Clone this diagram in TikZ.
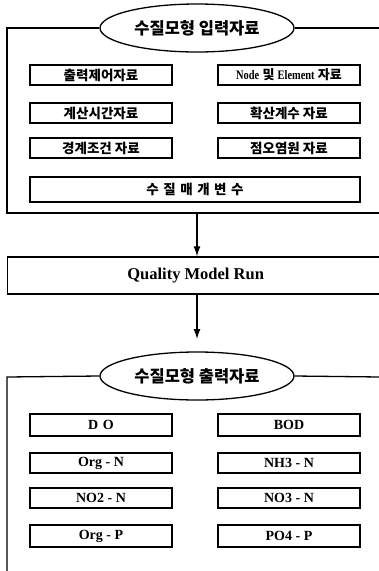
\documentclass[tikz,border=0pt]{standalone}
\usepackage{fontspec}
\setmainfont{Liberation Serif}
\newfontfamily\kr{Noto Sans CJK KR}
\usetikzlibrary{shapes.geometric,arrows.meta}
\begin{document}
\begin{tikzpicture}[x=1pt,y=-1pt,
  line width=1.3pt,
  frameline/.style={draw,line width=1.3pt},
  oval/.style={draw,ellipse,line width=1.3pt,minimum width=194pt,minimum height=48pt,inner sep=0pt,font=\kr\bfseries\fontsize{16.5}{16.5}\selectfont},
  box/.style={draw,line width=1.5pt,minimum width=142pt,minimum height=20pt,inner sep=0pt},
  krtext/.style={font=\kr\bfseries\fontsize{13.5}{14}\selectfont},
  entext/.style={font=\bfseries\fontsize{14}{14}\selectfont},
  arr/.style={draw,line width=1.3pt,-{Latex[length=10pt,width=7pt]}}
]
\useasboundingbox (0,0) rectangle (379,571);

% ---------- input frame ----------
\node[oval] (in) at (197,28) {수질모형 입력자료};
\coordinate (inTL) at (7,28);
\coordinate (inBL) at (7,213);
\coordinate (inBR) at (380,213);
\coordinate (inTR) at (380,28);
\draw[frameline] (in.west) -- (inTL) -- (inBL) -- (inBR);
\draw[frameline] (in.east) -- (inTR);

\node[box,krtext] (a1) at (101,75) {출력제어자료};
\node[box] (a2) at (289,75) {\fontsize{13}{13}\selectfont\bfseries\scalebox{0.8}[1]{Node} {\kr 및} \scalebox{0.8}[1]{Element} {\kr 자료}};
\node[box,krtext] (a3) at (101,113) {계산시간자료};
\node[box,krtext] (a4) at (289,113) {확산계수 자료};
\node[box,krtext] (a5) at (101,148) {경계조건 자료};
\node[box,krtext] (a6) at (289,148) {점오염원 자료};
\node[box,krtext,minimum width=330pt,minimum height=25pt] (a7) at (195,189.5) {수\,\,질\,\,매\,\,개\,\,변\,\,수};

% ---------- run ----------
\coordinate (inB) at (197,213);
\node[draw,line width=1.3pt,minimum width=380pt,minimum height=37pt,inner sep=0pt,anchor=west,
      font=\bfseries\fontsize{16.5}{16.5}\selectfont] (run) at (7,275.5) {\hspace*{-4pt}Quality Model Run};
\coordinate (runB) at (197,294);
\coordinate (arrEnd) at (197,339);
\draw[arr] (inB) -- (run.north -| inB);
\draw[arr] (runB) -- (arrEnd);

% ---------- output frame ----------
\node[oval] (out) at (197,376) {수질모형 출력자료};
\coordinate (outTL) at (7,377);
\coordinate (outBL) at (7,571);
\coordinate (outTR) at (380,377);
\draw[frameline] (out.west) -- (outTL) -- (outBL);
\draw[frameline] (out.east) -- (outTR);

\node[box,entext,minimum height=22pt] (b1) at (101,425) {D\,\,O};
\node[box,entext,minimum height=22pt] (b2) at (289,425) {BOD};
\node[box,entext] (b3) at (101,463) {Org - N};
\node[box,entext] (b4) at (289,463) {NH3 - N};
\node[box,entext] (b5) at (101,498) {NO2 - N};
\node[box,entext] (b6) at (289,498) {NO3 - N};
\node[box,entext,minimum height=22pt] (b7) at (101,536) {Org - P};
\node[box,entext,minimum height=22pt] (b8) at (289,536) {PO4 - P};
\end{tikzpicture}
\end{document}
